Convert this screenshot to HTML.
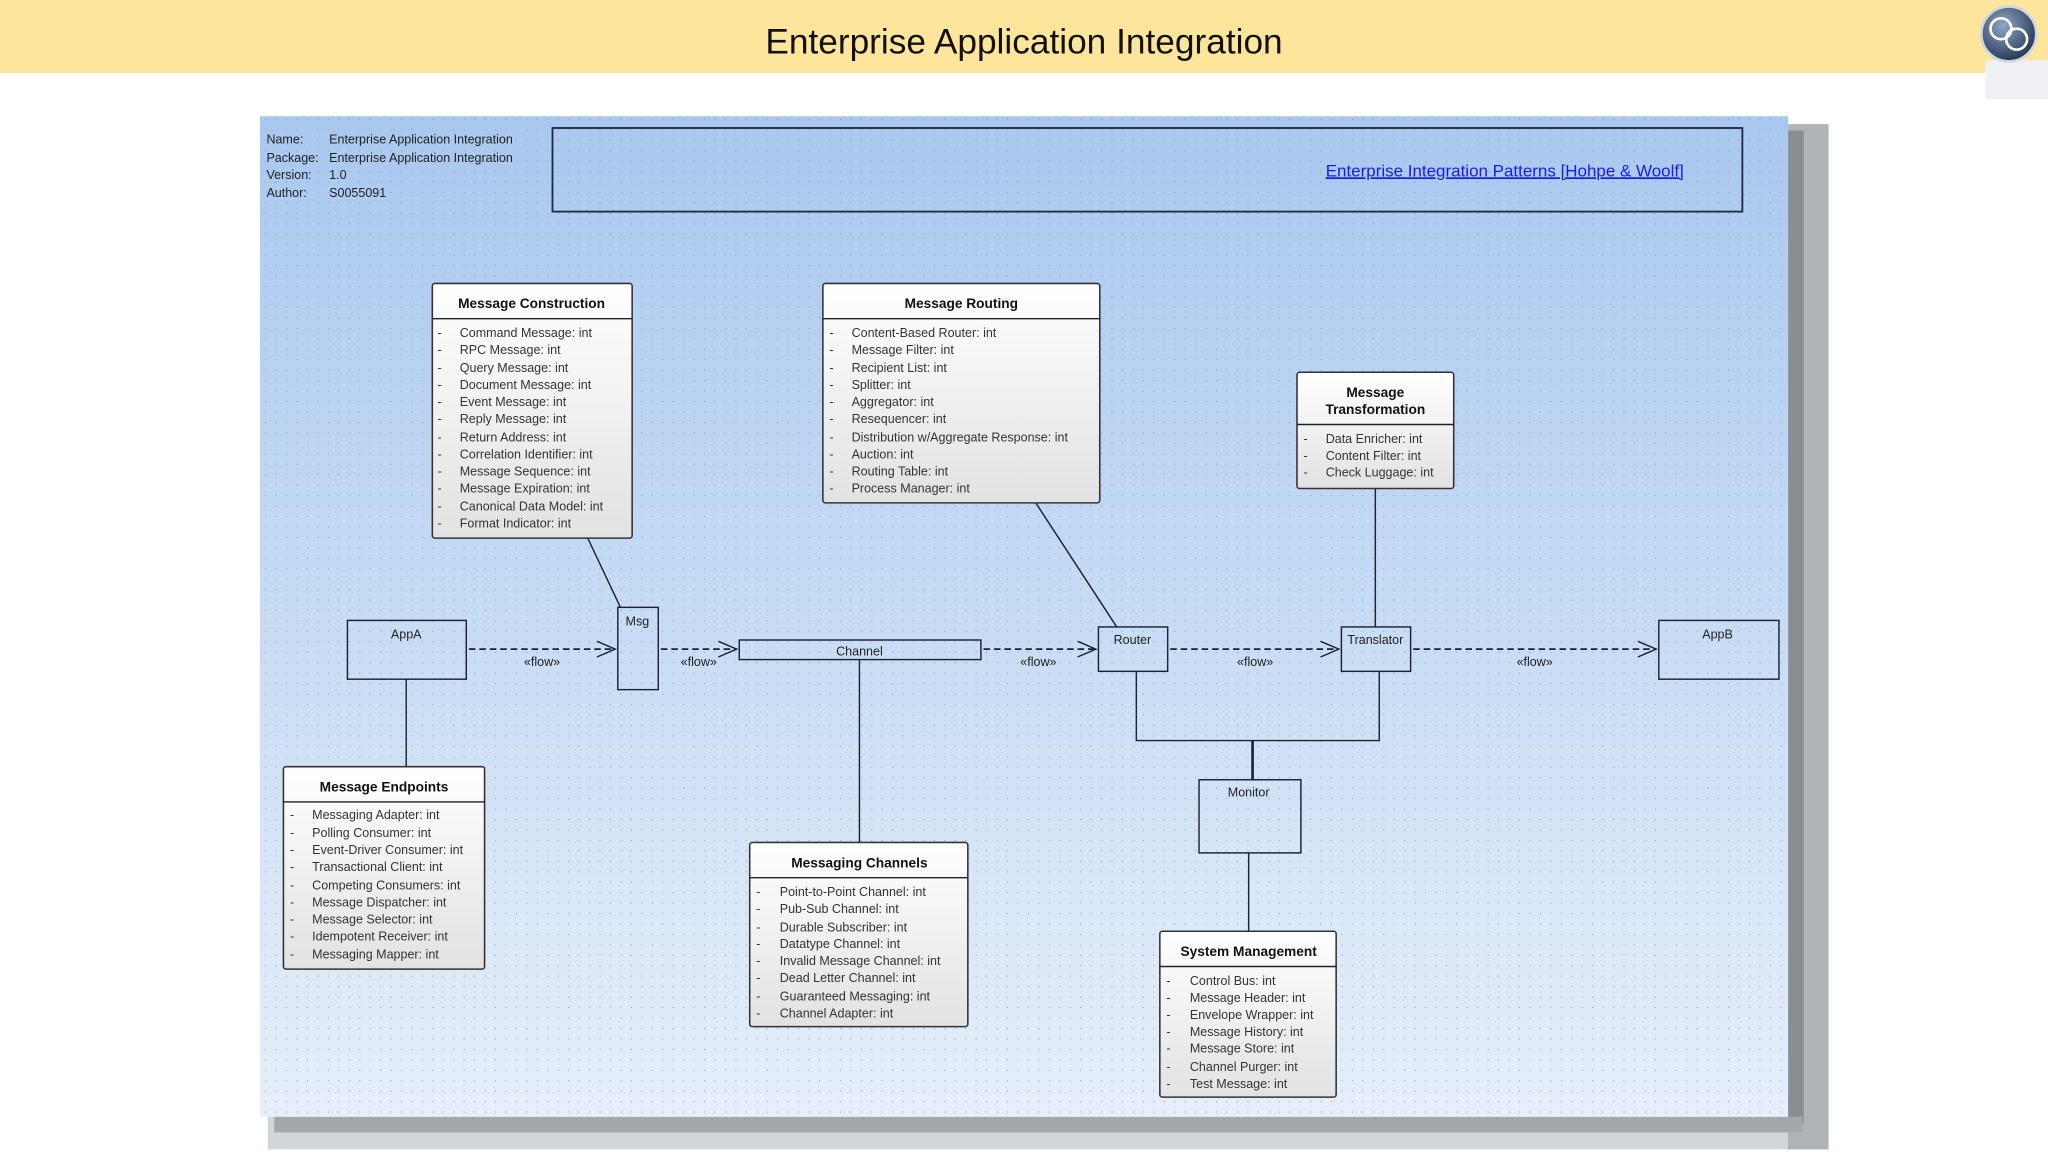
<!DOCTYPE html>
<html><head><meta charset="utf-8"><style>
html,body{margin:0;padding:0;background:#fff;}
svg{display:block;}
text{font-family:"Liberation Sans",Arial,sans-serif;}
.it{font-size:9.6px;fill:#333;}
.hd{font-size:10.5px;font-weight:bold;fill:#111;text-anchor:middle;}
.lb{font-size:9.6px;fill:#222;}
.fl{font-size:9.6px;fill:#222;text-anchor:middle;}
.ln{stroke:#1a2233;stroke-width:1.1;fill:none;}
.ds{stroke:#1a2233;stroke-width:1.3;fill:none;stroke-dasharray:5,3;}
.bx{fill:none;stroke:#1a2233;stroke-width:1.1;}
.cb{fill:url(#cg);stroke:#333;stroke-width:1.2;}
</style></head><body>
<svg width="2048" height="1152" viewBox="0 0 1568 882" xmlns="http://www.w3.org/2000/svg">
<defs>
<linearGradient id="bg" x1="0" y1="0" x2="0" y2="1"><stop offset="0" stop-color="#a9c8ef"/><stop offset="1" stop-color="#e6effa"/></linearGradient>
<linearGradient id="cg" x1="0" y1="0" x2="0" y2="1"><stop offset="0" stop-color="#ffffff"/><stop offset="1" stop-color="#e2e2e2"/></linearGradient>
<pattern id="dots" width="8" height="8" patternUnits="userSpaceOnUse"><rect x="3" y="3" width="0.8" height="0.8" fill="#8aa0b8"/></pattern>
<radialGradient id="lg" cx="0.4" cy="0.35" r="0.7"><stop offset="0" stop-color="#8fa6c4"/><stop offset="1" stop-color="#1f3350"/></radialGradient>
</defs>
<rect x="0" y="0" width="1568" height="56" fill="#fde69b"/>
<text x="784" y="41" font-size="27" text-anchor="middle" fill="#111">Enterprise Application Integration</text>
<rect x="1520" y="46" width="48" height="30" fill="#eef0f3"/>
<circle cx="1538" cy="26" r="21" fill="url(#lg)" stroke="#cfd6df" stroke-width="2"/>
<circle cx="1532" cy="22" r="8" fill="none" stroke="#fff" stroke-width="2"/>
<circle cx="1544" cy="30" r="8" fill="none" stroke="#fff" stroke-width="2"/>
<!-- panel shadow -->
<rect x="205" y="855" width="1195" height="25" fill="#d2d5d9"/>
<rect x="1369" y="95" width="31" height="785" fill="#b0b4b9"/>
<rect x="1369" y="100" width="12" height="760" fill="#8a8e92"/>
<rect x="210" y="855" width="1170" height="12" fill="#a4a8ad"/>
<rect x="199" y="89" width="1170" height="766" fill="url(#bg)"/>
<rect x="199" y="89" width="1170" height="766" fill="url(#dots)"/>
<g class="lb" font-size="9.4">
<text x="204" y="110" class="lb">Name:</text><text x="252" y="110" class="lb">Enterprise Application Integration</text>
<text x="204" y="124" class="lb">Package:</text><text x="252" y="124" class="lb">Enterprise Application Integration</text>
<text x="204" y="137" class="lb">Version:</text><text x="252" y="137" class="lb">1.0</text>
<text x="204" y="151" class="lb">Author:</text><text x="252" y="151" class="lb">S0055091</text>
</g>
<rect x="423" y="98" width="911" height="64" fill="none" stroke="#1f2a3a" stroke-width="1.4"/>
<text x="1015" y="135" font-size="13" fill="#1a1aee" text-decoration="underline">Enterprise Integration Patterns [Hohpe &amp; Woolf]</text>

<!-- connectors -->
<line class="ln" x1="450" y1="412" x2="475" y2="465"/>
<line class="ln" x1="793" y1="385" x2="855" y2="480"/>
<line class="ln" x1="1053" y1="374" x2="1053" y2="480"/>
<line class="ln" x1="311" y1="520" x2="311" y2="587"/>
<line class="ln" x1="658" y1="505" x2="658" y2="645"/>
<polyline class="ln" points="870,514 870,567 1056,567 1056,514"/>
<line x1="959" y1="567" x2="959" y2="597" stroke="#1a2233" stroke-width="2"/>
<line class="ln" x1="956" y1="653" x2="956" y2="713"/>

<g>
<line class="ds" x1="359" y1="497" x2="471" y2="497"/><polyline class="ln" points="457,491 471,497 457,503" stroke-width="1.3"/>
<line class="ds" x1="506" y1="497" x2="564" y2="497"/><polyline class="ln" points="550,491 564,497 550,503" stroke-width="1.3"/>
<line class="ds" x1="753" y1="497" x2="839" y2="497"/><polyline class="ln" points="825,491 839,497 825,503" stroke-width="1.3"/>
<line class="ds" x1="896" y1="497" x2="1025" y2="497"/><polyline class="ln" points="1011,491 1025,497 1011,503" stroke-width="1.3"/>
<line class="ds" x1="1082" y1="497" x2="1268" y2="497"/><polyline class="ln" points="1254,491 1268,497 1254,503" stroke-width="1.3"/>
<text class="fl" x="415" y="510">«flow»</text>
<text class="fl" x="535" y="510">«flow»</text>
<text class="fl" x="795" y="510">«flow»</text>
<text class="fl" x="961" y="510">«flow»</text>
<text class="fl" x="1175" y="510">«flow»</text>
</g>

<!-- simple boxes -->
<rect class="bx" x="266" y="475" width="91" height="45"/><text class="fl" x="311" y="489">AppA</text>
<rect class="bx" x="473" y="465" width="31" height="63"/><text class="fl" x="488" y="479">Msg</text>
<rect class="bx" x="566" y="490" width="185" height="15"/><text class="fl" x="658" y="502">Channel</text>
<rect class="bx" x="841" y="480" width="53" height="34"/><text class="fl" x="867" y="493">Router</text>
<rect class="bx" x="1027" y="480" width="53" height="34"/><text class="fl" x="1053" y="493">Translator</text>
<rect class="bx" x="1270" y="475" width="92" height="45"/><text class="fl" x="1315" y="489">AppB</text>
<rect class="bx" x="918" y="597" width="78" height="56"/><text class="fl" x="956" y="610">Monitor</text>

<!-- Message Construction -->
<rect class="cb" x="331" y="217" width="153" height="195" rx="2"/>
<line class="ln" x1="331" y1="244" x2="484" y2="244"/>
<text class="hd" x="407" y="236">Message Construction</text>
<g class="it">
<text x="335" y="258">-</text><text x="352" y="258">Command Message: int</text>
<text x="335" y="271">-</text><text x="352" y="271">RPC Message: int</text>
<text x="335" y="285">-</text><text x="352" y="285">Query Message: int</text>
<text x="335" y="298">-</text><text x="352" y="298">Document Message: int</text>
<text x="335" y="311">-</text><text x="352" y="311">Event Message: int</text>
<text x="335" y="324">-</text><text x="352" y="324">Reply Message: int</text>
<text x="335" y="338">-</text><text x="352" y="338">Return Address: int</text>
<text x="335" y="351">-</text><text x="352" y="351">Correlation Identifier: int</text>
<text x="335" y="364">-</text><text x="352" y="364">Message Sequence: int</text>
<text x="335" y="377">-</text><text x="352" y="377">Message Expiration: int</text>
<text x="335" y="391">-</text><text x="352" y="391">Canonical Data Model: int</text>
<text x="335" y="404">-</text><text x="352" y="404">Format Indicator: int</text>
</g>

<!-- Message Routing -->
<rect class="cb" x="630" y="217" width="212" height="168" rx="2"/>
<line class="ln" x1="630" y1="244" x2="842" y2="244"/>
<text class="hd" x="736" y="236">Message Routing</text>
<g class="it">
<text x="635" y="258">-</text><text x="652" y="258">Content-Based Router: int</text>
<text x="635" y="271">-</text><text x="652" y="271">Message Filter: int</text>
<text x="635" y="285">-</text><text x="652" y="285">Recipient List: int</text>
<text x="635" y="298">-</text><text x="652" y="298">Splitter: int</text>
<text x="635" y="311">-</text><text x="652" y="311">Aggregator: int</text>
<text x="635" y="324">-</text><text x="652" y="324">Resequencer: int</text>
<text x="635" y="338">-</text><text x="652" y="338">Distribution w/Aggregate Response: int</text>
<text x="635" y="351">-</text><text x="652" y="351">Auction: int</text>
<text x="635" y="364">-</text><text x="652" y="364">Routing Table: int</text>
<text x="635" y="377">-</text><text x="652" y="377">Process Manager: int</text>
</g>

<!-- Message Transformation -->
<rect class="cb" x="993" y="285" width="120" height="89" rx="2"/>
<line class="ln" x1="993" y1="325" x2="1113" y2="325"/>
<text class="hd" x="1053" y="304">Message</text>
<text class="hd" x="1053" y="317">Transformation</text>
<g class="it">
<text x="998" y="339">-</text><text x="1015" y="339">Data Enricher: int</text>
<text x="998" y="352">-</text><text x="1015" y="352">Content Filter: int</text>
<text x="998" y="365">-</text><text x="1015" y="365">Check Luggage: int</text>
</g>

<!-- Message Endpoints -->
<rect class="cb" x="217" y="587" width="154" height="155" rx="2"/>
<line class="ln" x1="217" y1="614" x2="371" y2="614"/>
<text class="hd" x="294" y="606">Message Endpoints</text>
<g class="it">
<text x="222" y="627">-</text><text x="239" y="627">Messaging Adapter: int</text>
<text x="222" y="641">-</text><text x="239" y="641">Polling Consumer: int</text>
<text x="222" y="654">-</text><text x="239" y="654">Event-Driver Consumer: int</text>
<text x="222" y="667">-</text><text x="239" y="667">Transactional Client: int</text>
<text x="222" y="681">-</text><text x="239" y="681">Competing Consumers: int</text>
<text x="222" y="694">-</text><text x="239" y="694">Message Dispatcher: int</text>
<text x="222" y="707">-</text><text x="239" y="707">Message Selector: int</text>
<text x="222" y="720">-</text><text x="239" y="720">Idempotent Receiver: int</text>
<text x="222" y="734">-</text><text x="239" y="734">Messaging Mapper: int</text>
</g>

<!-- Messaging Channels -->
<rect class="cb" x="574" y="645" width="167" height="141" rx="2"/>
<line class="ln" x1="574" y1="672" x2="741" y2="672"/>
<text class="hd" x="658" y="664">Messaging Channels</text>
<g class="it">
<text x="579" y="686">-</text><text x="597" y="686">Point-to-Point Channel: int</text>
<text x="579" y="699">-</text><text x="597" y="699">Pub-Sub Channel: int</text>
<text x="579" y="713">-</text><text x="597" y="713">Durable Subscriber: int</text>
<text x="579" y="726">-</text><text x="597" y="726">Datatype Channel: int</text>
<text x="579" y="739">-</text><text x="597" y="739">Invalid Message Channel: int</text>
<text x="579" y="752">-</text><text x="597" y="752">Dead Letter Channel: int</text>
<text x="579" y="766">-</text><text x="597" y="766">Guaranteed Messaging: int</text>
<text x="579" y="779">-</text><text x="597" y="779">Channel Adapter: int</text>
</g>

<!-- System Management -->
<rect class="cb" x="888" y="713" width="135" height="127" rx="2"/>
<line class="ln" x1="888" y1="740" x2="1023" y2="740"/>
<text class="hd" x="956" y="732">System Management</text>
<g class="it">
<text x="893" y="754">-</text><text x="911" y="754">Control Bus: int</text>
<text x="893" y="767">-</text><text x="911" y="767">Message Header: int</text>
<text x="893" y="780">-</text><text x="911" y="780">Envelope Wrapper: int</text>
<text x="893" y="793">-</text><text x="911" y="793">Message History: int</text>
<text x="893" y="806">-</text><text x="911" y="806">Message Store: int</text>
<text x="893" y="820">-</text><text x="911" y="820">Channel Purger: int</text>
<text x="893" y="833">-</text><text x="911" y="833">Test Message: int</text>
</g>
</svg>
</body></html>
